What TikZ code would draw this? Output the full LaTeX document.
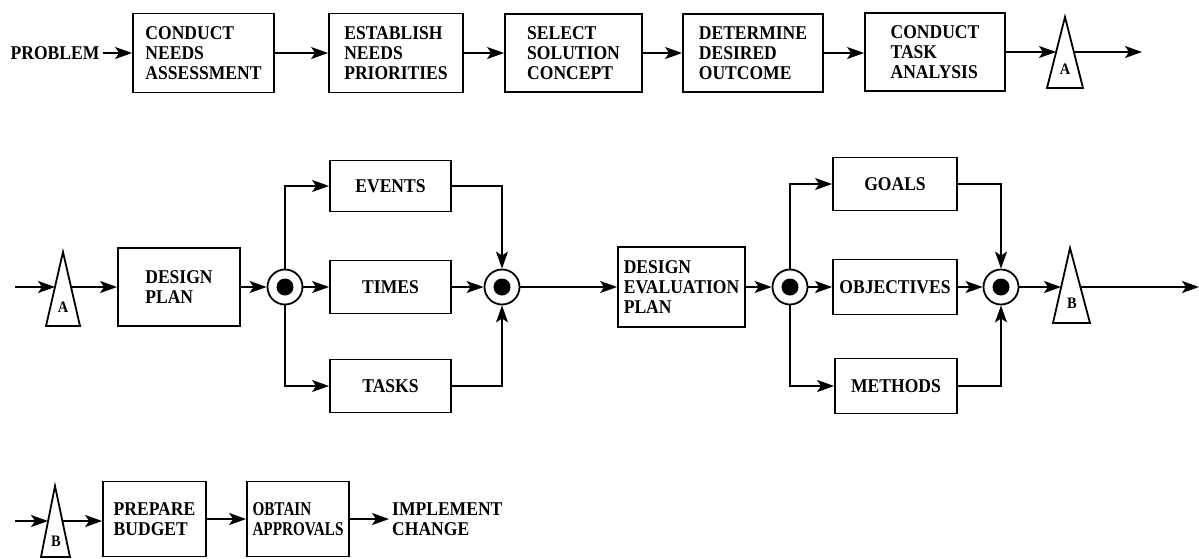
\documentclass[tikz,border=0pt]{standalone}
\usepackage{fontspec}
\setmainfont{Liberation Serif}[FakeStretch=0.9]
\newfontfamily\narrowfont{Liberation Serif}[FakeStretch=0.78]
\usetikzlibrary{arrows.meta}
\begin{document}
\begin{tikzpicture}[x=1pt,y=-1pt,
  box/.style={draw, line width=1.8pt, inner sep=0pt, align=left, font=\bfseries\fontsize{19.5}{20}\selectfont},
  lbl/.style={inner sep=0pt, align=left, font=\bfseries\fontsize{19.5}{20}\selectfont},
  conn/.style={line width=1.8pt, -{Stealth[length=17pt,width=12pt,inset=4pt]}},
  tri/.style={line width=1.8pt, line join=miter},
  tl/.style={inner sep=0pt, font=\bfseries\fontsize{16}{16}\selectfont},
  junc/.style={circle, draw, line width=1.8pt, minimum size=35pt, inner sep=0pt},
  wide/.style={minimum width=#1pt},
  tall/.style={minimum height=#1pt}
]
\useasboundingbox (0,0) rectangle (1199,558);

% ---------- top row ----------
\node[lbl] (prob) at (55,53) {PROBLEM};
\node[box, wide=141, tall=79] (b1) at (203.5,53) {CONDUCT\\NEEDS\\ASSESSMENT};
\node[box, wide=134, tall=79] (b2) at (396,53) {ESTABLISH\\NEEDS\\PRIORITIES};
\node[box, wide=137, tall=78] (b3) at (573.5,53) {SELECT\\SOLUTION\\CONCEPT};
\node[box, wide=140, tall=78] (b4) at (753,53) {DETERMINE\\DESIRED\\OUTCOME};
\node[box, wide=140, tall=78] (b5) at (935,52) {CONDUCT\\TASK\\ANALYSIS};
\draw[tri] (1065,17) -- (1083,88) -- (1047,88) -- cycle;
\node[tl] (tA1) at (1065,69) {A};
\coordinate (tA1in) at (1056,52);
\coordinate (tA1out) at (1074,52);
\coordinate (endA) at (1142,52);

\draw[conn, shorten <=3pt] (prob) -- (b1);
\draw[conn] (b1) -- (b2);
\draw[conn] (b2) -- (b3);
\draw[conn] (b3) -- (b4);
\draw[conn] (b4.east) -- (b4.east -| b5.west);
\draw[conn] (b5) -- (tA1in);
\draw[conn] (tA1out) -- (endA);

% ---------- middle row ----------
\coordinate (startA) at (15,287);
\draw[tri] (63,252) -- (80,326) -- (46,326) -- cycle;
\node[tl] (tA2) at (63,307) {A};
\coordinate (tA2in) at (55,287);
\coordinate (tA2out) at (71,287);
\node[box, wide=122, tall=78] (dp) at (179,287) {DESIGN\\PLAN};
\node[junc] (j1) at (285,287) {};
\fill (j1.center) circle (8.5pt);
\node[box, wide=121, tall=51] (ev) at (390.5,186) {EVENTS};
\node[box, wide=121, tall=53] (ti) at (390.5,287) {TIMES};
\node[box, wide=121, tall=53] (ta) at (390.5,386) {TASKS};
\node[junc] (j2) at (502,287) {};
\fill (j2.center) circle (8.5pt);
\node[box, wide=127, tall=80] (dep) at (681.5,287) {DESIGN\\EVALUATION\\PLAN};
\node[junc] (j3) at (790,287) {};
\fill (j3.center) circle (8.5pt);
\node[box, wide=124, tall=53] (go) at (895,184) {GOALS};
\node[box, wide=124, tall=55] (ob) at (895,287) {OBJECTIVES};
\node[box, wide=122, tall=55] (me) at (896,386) {METHODS};
\node[junc] (j4) at (1001,287) {};
\fill (j4.center) circle (8.5pt);
\draw[tri] (1070,248) -- (1090,323) -- (1053,323) -- cycle;
\node[tl] (tB1) at (1072,303) {B};
\coordinate (tB1in) at (1061,287);
\coordinate (tB1out) at (1080,287);
\coordinate (endB) at (1199,287);

\draw[conn] (startA) -- (tA2in);
\draw[conn] (tA2out) -- (dp);
\draw[conn] (dp) -- (j1);
\draw[conn] (j1.north) |- (ev.west);
\draw[conn] (j1) -- (ti);
\draw[conn] (j1.south) |- (ta.west);
\draw[conn] (ev.east) -| (j2.north);
\draw[conn] (ti) -- (j2);
\draw[conn] (ta.east) -| (j2.south);
\draw[conn] (j2) -- (dep);
\draw[conn] (dep) -- (j3);
\draw[conn] (j3.north) |- (go.west);
\draw[conn] (j3) -- (ob);
\draw[conn] (j3.south) |- (me.west);
\draw[conn] (go.east) -| (j4.north);
\draw[conn] (ob) -- (j4);
\draw[conn] (me.east) -| (j4.south);
\draw[conn] (j4) -- (tB1in);
\draw[conn] (tB1out) -- (endB);

% ---------- bottom row ----------
\coordinate (startB) at (15,521);
\draw[tri] (55,486) -- (70,557) -- (41,557) -- cycle;
\node[tl] (tB2) at (56,541) {B};
\coordinate (tB2in) at (48,521);
\coordinate (tB2out) at (63,521);
\node[box, wide=103, tall=75] (pb) at (154.5,519) {PREPARE\\BUDGET};
\node[box, wide=102, tall=75, font=\narrowfont\bfseries\fontsize{19.5}{20}\selectfont] (oa) at (298,519) {OBTAIN\\APPROVALS};
\node[lbl, anchor=west] (ic) at (392,519) {IMPLEMENT\\CHANGE};

\draw[conn] (startB) -- (tB2in);
\draw[conn] (tB2out) -- (tB2out -| pb.west);
\draw[conn] (pb) -- (oa);
\draw[conn, shorten >=3pt] (oa) -- (ic);
\end{tikzpicture}
\end{document}
